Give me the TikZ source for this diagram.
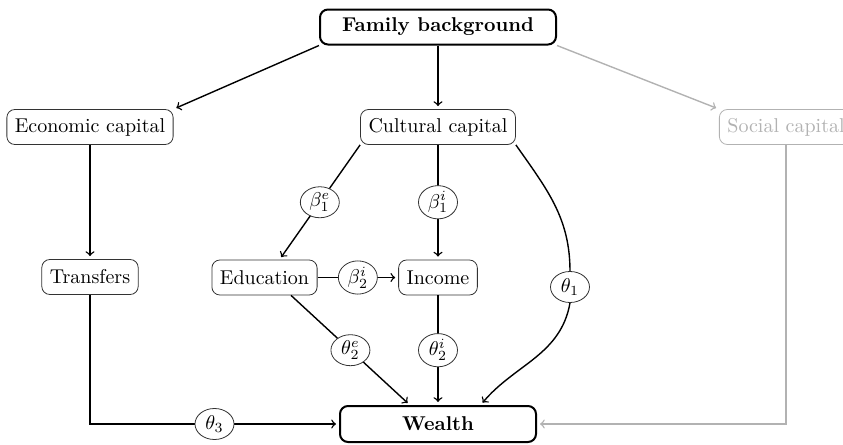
\documentclass[tikz,border=0pt]{standalone}
\usetikzlibrary{shapes.geometric}
\tikzset{
	box/.style={draw=black!80,thin,rounded corners=4pt,inner sep=4pt,minimum height=17.5pt,fill=white},
	keybox/.style={box,draw=black,line width=1pt,font=\bfseries},
	coef/.style={draw=black!80,thin,ellipse,inner sep=0.5pt,minimum width=19.5pt,minimum height=15.5pt,fill=white},
	arr/.style={->,line width=0.7pt,shorten >=1.5pt},
	faint/.style={draw=gray!60,text=gray!60}
}
\begin{document}
\begin{tikzpicture}[x=0.5pt,y=-0.5pt]
	\clip (0,0) rectangle (843,445);
	\node[keybox,minimum width=118pt] (fam) at (438,27) {Family background};
	\node[box] (econ) at (90,127) {Economic capital};
	\node[box] (cult) at (438,127) {Cultural capital};
	\node[box,faint] (soc) at (786,127) {Social capital};
	\node[box] (trans) at (90,277) {Transfers};
	\node[box] (edu) at (264.5,277.5) {Education};
	\node[box] (inc) at (438,277.5) {Income};
	\node[keybox,minimum width=98pt,minimum height=18pt] (wealth) at (438,424) {Wealth};
	\node[coef] (t1) at (570,287) {$\theta_1$};

	\draw[arr] (fam.south west) -- (econ.north east);
	\draw[arr] (fam) -- (cult);
	\draw[arr,faint] (fam.south east) -- (soc.north west);
	\draw[arr] (econ) -- (trans);
	\draw[arr] (cult.south west) -- node[coef]{$\beta_1^e$} (edu.50);
	\draw[arr] (cult) -- node[coef]{$\beta_1^i$} (inc);
	\draw[arr] (edu) -- node[coef]{$\beta_2^i$} (inc);
	\draw[line width=0.7pt] (cult.south east) to[out=-55,in=90] (t1.north);
	\draw[arr] (t1.south) to[out=-100,in=50] (wealth.24);
	\draw[arr] (edu.-34) -- node[coef]{$\theta_2^e$} (wealth.146);
	\draw[arr] (inc) -- node[coef]{$\theta_2^i$} (wealth);
	\draw[arr] (trans) |- node[coef,pos=0.75]{$\theta_3$} (wealth);
	\draw[arr,faint] (soc) |- (wealth);
\end{tikzpicture}
\end{document}
